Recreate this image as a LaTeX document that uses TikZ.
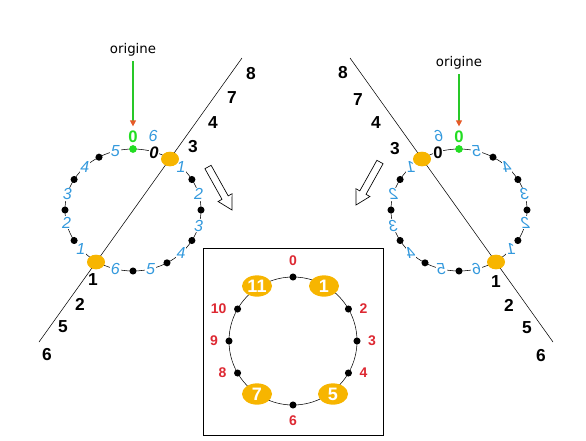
\documentclass[tikz,border=0pt]{standalone}
\usepackage{fontspec}
\setmainfont{Liberation Sans}
\newfontfamily\bdfont{DejaVu Sans}
\usepackage{graphicx}
\usetikzlibrary{arrows.meta,shapes.geometric}

\definecolor{bleu}{RGB}{51,153,221}
\definecolor{rouge}{RGB}{221,40,50}
\definecolor{jaune}{RGB}{247,181,0}
\definecolor{vert}{RGB}{34,221,34}
\definecolor{vertfonce}{RGB}{40,200,40}
\definecolor{pointe}{RGB}{230,90,40}

\begin{document}
\begin{tikzpicture}[x=0.75pt,y=-0.75pt,
  point/.style={circle,fill=black,inner sep=0pt,minimum size=5.3pt},
  pointvert/.style={circle,fill=vert,inner sep=0pt,minimum size=5.8pt},
  tache/.style={ellipse,fill=jaune,inner sep=0pt,minimum width=13.5pt,minimum height=11pt},
  gros/.style={ellipse,fill=jaune,inner sep=0pt,minimum width=22.5pt,minimum height=16pt,
    text=white,font=\fontsize{13.5}{13.5}\selectfont\bfseries},
  num/.style={font=\fontsize{13}{14}\selectfont\bfseries},
  bleuit/.style={text=bleu,fill=white,inner sep=0.6pt,font=\fontsize{12}{14}\selectfont\itshape},
  vertnum/.style={text=vert,font=\fontsize{12.5}{14}\selectfont\bfseries},
  rougenum/.style={text=rouge,font=\fontsize{10.5}{12}\selectfont\bfseries},
  origine/.style={font=\bdfont\fontsize{10}{12}\selectfont},
  flechevert/.style={vertfonce,line width=0.9pt,
    -{Triangle[length=4.5pt,width=4.5pt,color=pointe]}},
  creuse/.style={draw=black,fill=white,line width=0.5pt}]

\useasboundingbox (0,0) rectangle (586,440);

% Figure de gauche
\begin{scope}[shift={(133,210)}]

\draw (0,0) ellipse [x radius=68, y radius=61];

\foreach \a/\t in {45/1,75/2,105/3,135/4,165/5,195/6,230/1,258/2,285/3,315/4,345/5}
  \node[bleuit] (bG\a) at ({68*sin(\a)},{-61*cos(\a)}) {\t};
\node[bleuit,font=\fontsize{12.5}{14}\selectfont\bfseries\itshape,text=black] (zeroG) at (21,-57) {0};
\node[bleuit,fill=none] (sixG) at (20,-74) {6};

\coordinate (hautG) at (109,-152);
\coordinate (basG) at (-94,132);
\draw (hautG) -- (basG);

\foreach \a in {60,90,120,150,180,240,270,300,330}
  \node[point] (pG\a) at ({68*sin(\a)},{-61*cos(\a)}) {};
\node[pointvert] (origG) at (0,-61) {};
\node[tache] (tG1) at (37,-51) {};
\node[tache] (tG2) at (-37,52) {};

\foreach \x/\y/\t in {118/-136/8,99/-112/7,80/-87/4,60/-63/3,-40/70/1,-53/94/2,-70/117/5,-86/145/6}
  \node[num] (nG\t) at (\x,\y) {\t};

% origine
\node[vertnum] (vertG) at (0,-73) {0};
\node[origine] (txtG) at (0,-160) {origine};
\draw[flechevert] (txtG) -- (vertG);

% fleche creuse
\draw[creuse] (78.1,-44.7) -- (95.2,-14.1) -- (99.1,-16.3) -- (99,0)
  -- (85.1,-8.5) -- (89,-10.7) -- (71.9,-41.3) -- cycle;

\end{scope}

% Figure de droite (miroir)
\begin{scope}[shift={(459,210)},xscale=-1]

\draw (0,0) ellipse [x radius=68, y radius=61];

\foreach \a/\t in {45/1,75/2,105/3,135/4,165/5,195/6,230/1,258/2,285/3,315/4,345/5}
  \node[bleuit] (bD\a) at ({68*sin(\a)},{-61*cos(\a)}) {\reflectbox{\t}};
\node[bleuit,font=\fontsize{12.5}{14}\selectfont\bfseries,text=black] (zeroD) at (21,-57) {0};
\node[bleuit,fill=none] (sixD) at (20,-74) {\reflectbox{6}};

\coordinate (hautD) at (109,-152);
\coordinate (basD) at (-94,132);
\draw (hautD) -- (basD);

\foreach \a in {60,90,120,150,180,240,270,300,330}
  \node[point] (pD\a) at ({68*sin(\a)},{-61*cos(\a)}) {};
\node[pointvert] (origD) at (0,-61) {};
\node[tache] (tD1) at (37,-51) {};
\node[tache] (tD2) at (-37,52) {};

\foreach \x/\y/\t in {116/-137/8,101/-110/7,83/-87/4,64/-61/3,-37/72/1,-50/95/2,-68/118/5,-82/146/6}
  \node[num] (nD\t) at (\x,\y) {\t};

% origine
\node[vertnum] (vertD) at (0,-73) {0};
\node[origine] (txtD) at (0,-147) {origine};
\draw[flechevert] (txtD) -- (vertD);

% fleche creuse
\begin{scope}[shift={(4,-5)}]
\draw[creuse] (78.1,-44.7) -- (95.2,-14.1) -- (99.1,-16.3) -- (99,0)
  -- (85.1,-8.5) -- (89,-10.7) -- (71.9,-41.3) -- cycle;
\end{scope}

\end{scope}

% Cadre
\draw (203,248) rectangle (383,435);

\begin{scope}[shift={(293,341)}]

\draw (0,0) circle [radius=64];

\foreach \a/\t/\p in {0/0/above,60/2/right,90/3/right,120/4/right,180/6/below,240/8/left,270/9/left,300/10/left}
  \node[point,label={[rougenum,label distance=2pt]\p:\t}] (c\t) at ({64*sin(\a)},{-64*cos(\a)}) {};

\node[gros] (g11) at (-36,-55) {11};
\node[gros] (g1) at (31,-55) {1};
\node[gros] (g7) at (-36,53) {7};
\node[gros] (g5) at (40,53) {5};

\end{scope}

\end{tikzpicture}
\end{document}
